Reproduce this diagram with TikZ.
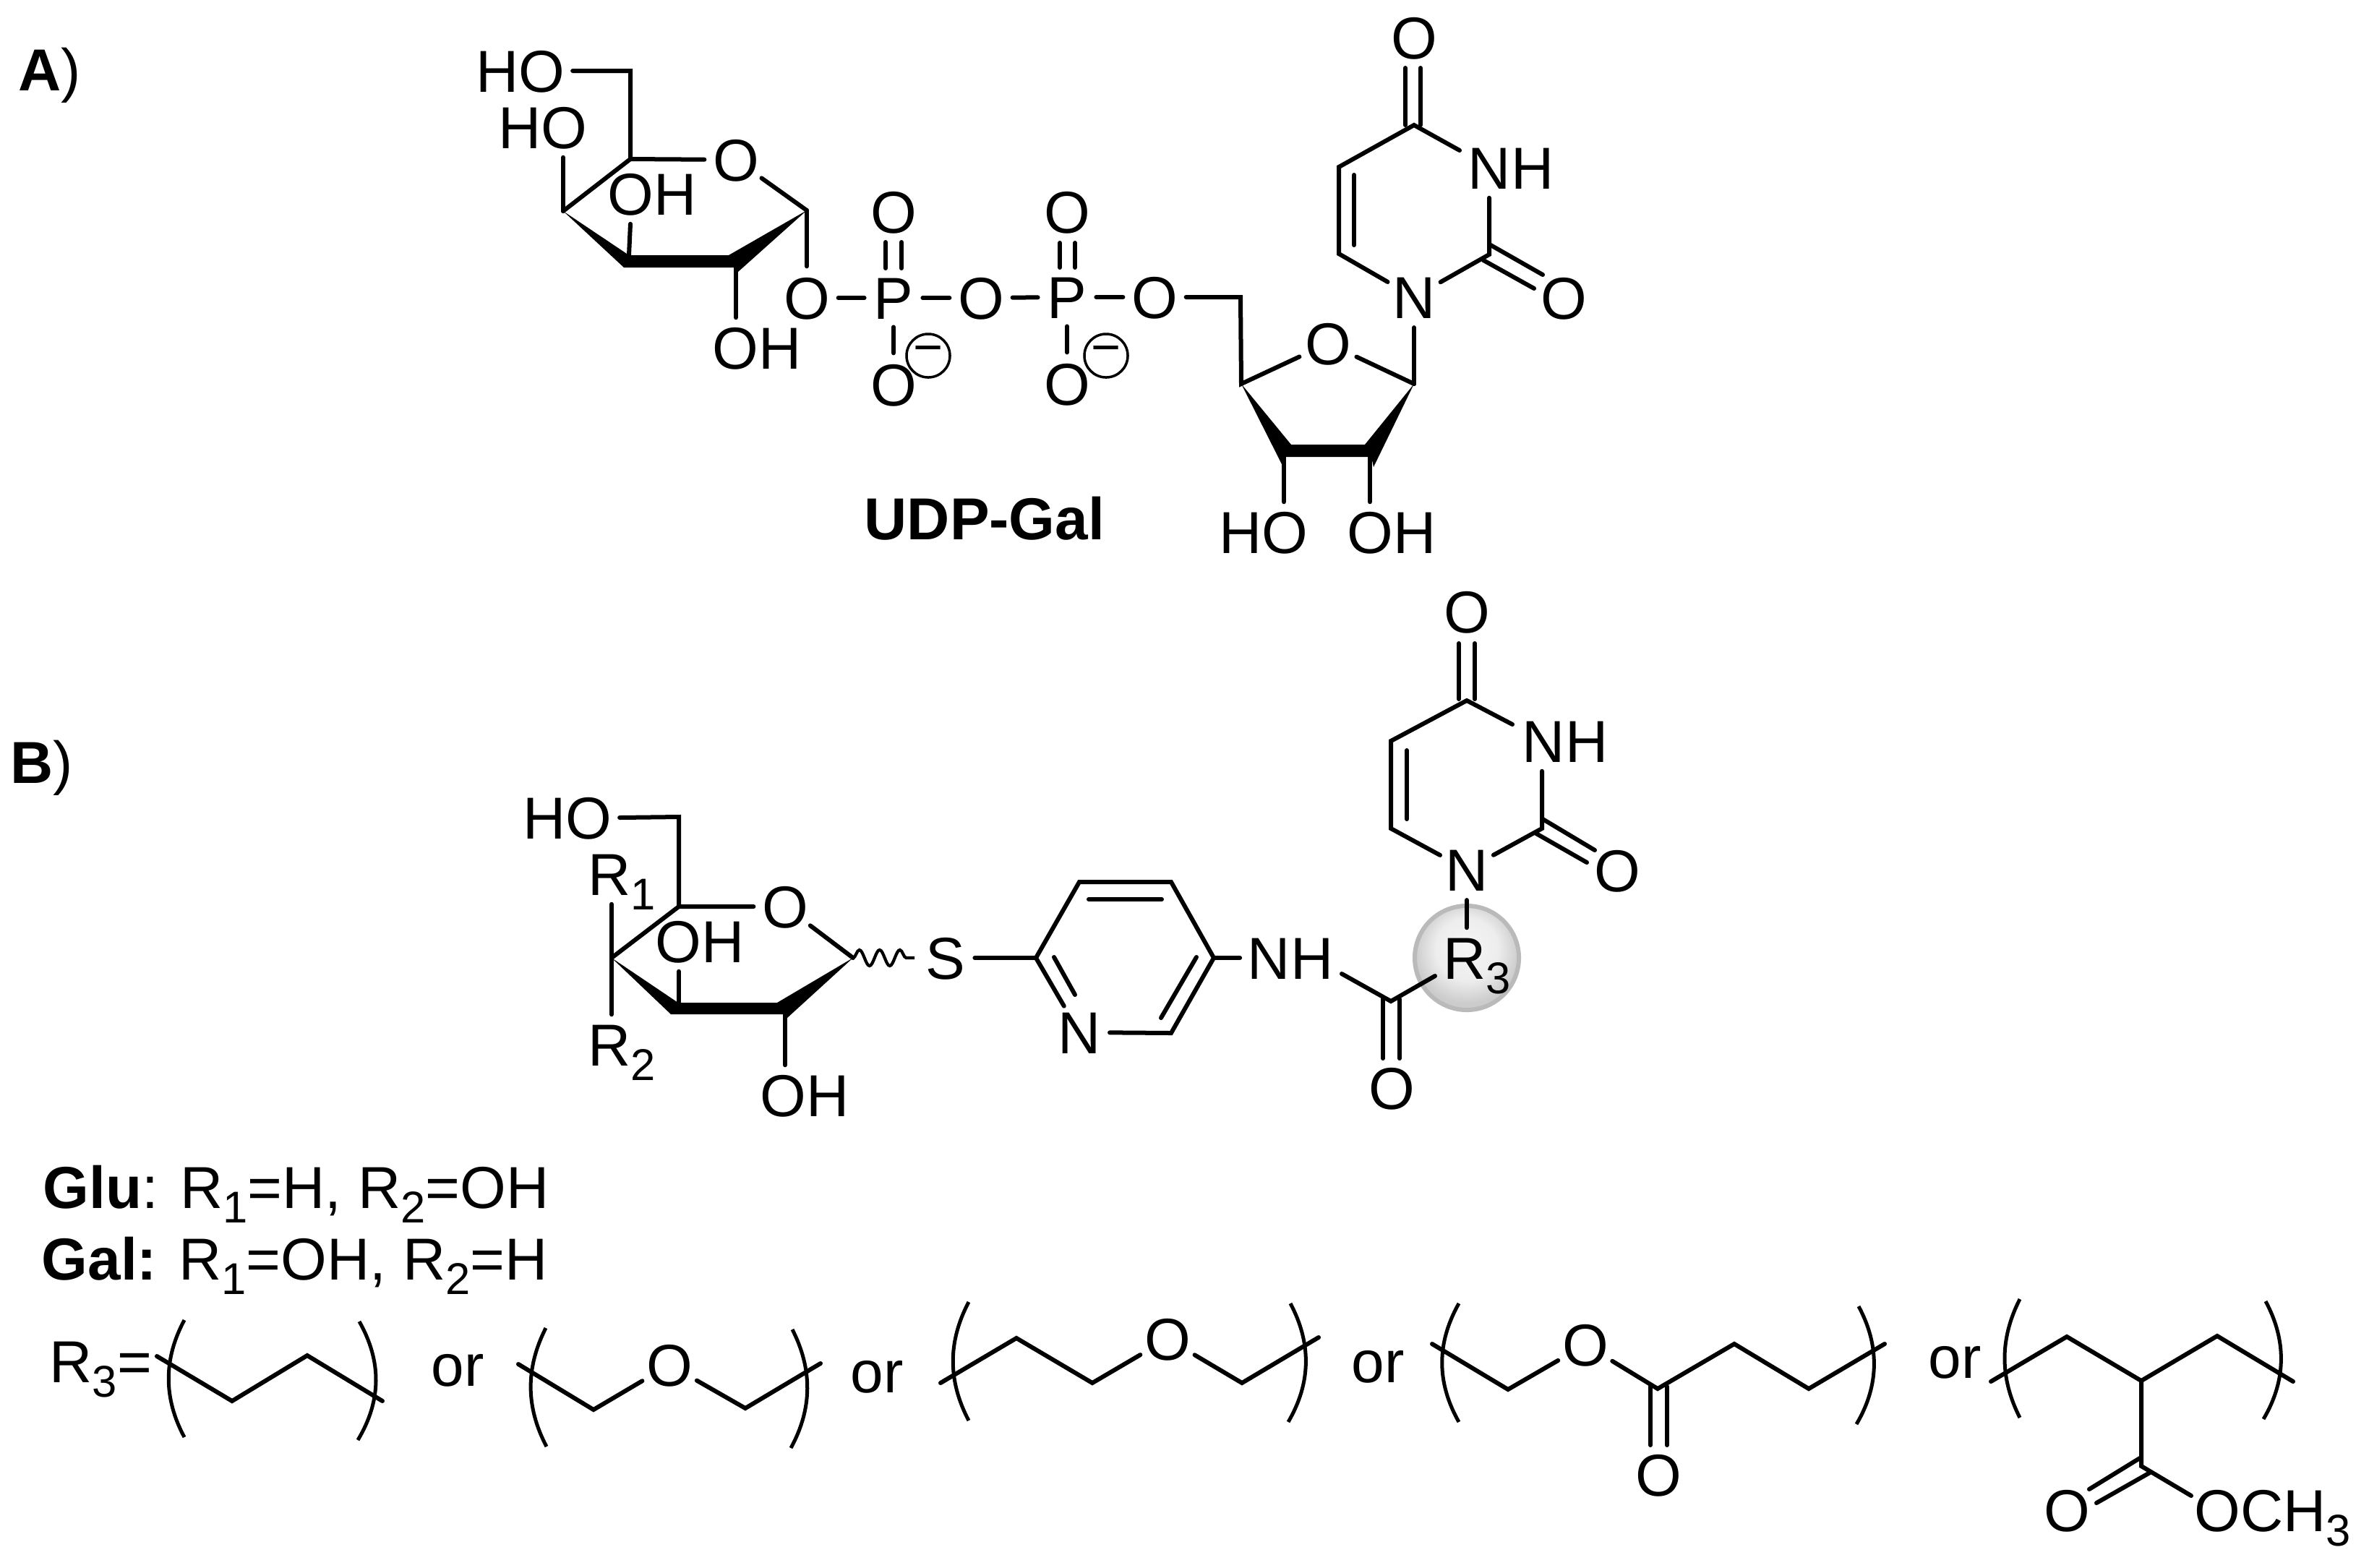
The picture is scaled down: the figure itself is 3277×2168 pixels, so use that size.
\documentclass[tikz,border=0pt]{standalone}
\usepackage{fontspec}
\setmainfont{Liberation Sans}
\usetikzlibrary{decorations.pathmorphing}
\pgfdeclareradialshading{ballshadeR}{\pgfpoint{0bp}{6bp}}{color(0bp)=(black!4); color(15bp)=(black!7); color(25bp)=(black!20); color(50bp)=(black!22)}
\newcommand\lowidx[1]{\raisebox{-0.2cm}{\fontsize{17.5pt}{18pt}\selectfont #1}}
\newcommand\segm[3]{\coordinate (#1a) at (#2); \coordinate (#1b) at (#3); \draw[bond] (#1a) -- (#1b);}
\newcommand\brk[5]{\coordinate (#1a) at (#2); \coordinate (#1b) at (#5); \draw[brkline] (#1a) .. controls (#3) and (#4) .. (#1b);}
\tikzset{
  bond/.style={line width=0.06cm,line cap=round,line join=miter,black},
  brkline/.style={line width=0.05cm,black},
  atom/.style={circle,inner sep=0pt,text height=0.58cm,text depth=0pt},
  lab/.style={rectangle,inner xsep=0.1cm,inner ysep=0.12cm,text height=0.58cm,text depth=0pt},
  txt/.style={inner sep=0pt,anchor=base west},
  minusc/.style={circle,draw,line width=0.035cm,inner sep=0pt,minimum size=0.6cm,fill=none,font=\fontsize{20pt}{20pt}\selectfont},
  wavy/.style={line width=0.042cm,decorate,decoration={snake,segment length=0.28cm,amplitude=0.11cm}},
  ballnode/.style={circle,inner sep=0pt,minimum size=1.44cm,shade,shading=ballshadeR,draw=black!27,line width=0.06cm}
}
\begin{document}
\begin{tikzpicture}[x=0.01cm,y=-0.01cm,every node/.append style={font=\fontsize{23.3pt}{26pt}\selectfont}]
\useasboundingbox (0,0) rectangle (3277,2168);
\fill[white] (0,0) rectangle (3277,2168);

% ---------- Panel labels
\node[txt] (panA) at (25,125) {\textbf{A})};
\node[txt] (panB) at (14,1083) {\textbf{B})};
\node[txt] (udp) at (1195,746) {\textbf{UDP-Gal}};

% ---------- A: galactose
\coordinate (ga1) at (1116,291);
\coordinate (ga2) at (1018,362);
\coordinate (ga3) at (872,362);
\coordinate (ga4) at (779,292);
\coordinate (ga5) at (872,220);
\coordinate (ga6) at (872,98);
\node[atom] (gaO) at (1018,221) {O};
\node[lab] (gaHO6) at (720,98) {HO};
\node[lab] (gaHO4) at (751,176) {HO};
\node[lab] (gaOH3) at (902,268) {OH};
\node[lab] (gaOH2) at (1047,481) {OH};
\fill (ga4) -- (870,353) -- (1008,353) -- (ga1) -- (1021,376) -- (1018,370) -- (863,370) -- cycle;
\draw[bond] (gaHO6.east) -- (ga6) -- (ga5) -- (ga4);
\draw[bond] (ga5) -- (gaO) -- (ga1);
\draw[bond] (ga4) -- (gaHO4.south -| ga4);
\draw[bond] (870,353) -- (gaOH3.south -| ga3);
\draw[bond] (1018,368) -- (gaOH2.north -| ga2);

% ---------- A: diphosphate
\node[atom] (oa2) at (1116,412) {O};
\node[atom] (pa1) at (1236,412) {P};
\node[atom] (oa3) at (1236,293) {O};
\node[atom] (oa4) at (1236,532) {O};
\node[atom] (oa5) at (1357,412) {O};
\node[atom] (pa2) at (1476,411) {P};
\node[atom] (oa6) at (1476,293) {O};
\node[atom] (oa7) at (1476,531) {O};
\node[atom] (oa8) at (1597,411) {O};
\node[minusc] (ma1) at (1284,492) {−};
\node[minusc] (ma2) at (1530,492) {−};
\draw[bond] (ga1) -- (oa2);
\draw[bond] (oa2) -- (pa1);
\draw[bond] (pa1) -- (oa5);
\draw[bond] (oa5) -- (pa2);
\draw[bond] (pa2) -- (oa8);
\draw[bond] (pa1) -- (oa4);
\draw[bond] (pa2) -- (oa7);
\segm{da1}{1225,335}{1225,371}
\segm{da2}{1247,335}{1247,371}
\segm{da3}{1466,336}{1466,370}
\segm{da4}{1487,336}{1487,370}

% ---------- A: ribose
\coordinate (ri6) at (1716,411);
\coordinate (ri4) at (1717,531);
\coordinate (ri1) at (1956,531);
\coordinate (ri3) at (1776,632);
\coordinate (ri2) at (1895,632);
\node[atom] (riO) at (1837,475) {O};
\node[lab] (riHO) at (1748,736) {HO};
\node[lab] (riOH) at (1925,736) {OH};
\fill (ri4) -- (1786,615) -- (1888,615) -- (ri1) -- (1900,646) -- (1897,632) -- (1779,632) -- (1775,646) -- cycle;
\draw[bond] (oa8) -- (ri6) -- (ri4) -- (riO) -- (ri1);
\draw[bond] (ri3) -- (riHO.north -| ri3);
\draw[bond] (ri2) -- (riOH.north -| ri2);

% ---------- A: uracil
\coordinate (ua2) at (2060,352);
\coordinate (ua4) at (1956,173);
\coordinate (ua5) at (1852,231);
\coordinate (ua6) at (1852,351);
\coordinate (uaNe) at (2019,208);
\node[atom] (uaN1) at (1956,411) {N};
\node[lab] (uaN3) at (2090,232) {NH};
\node[atom] (uaO2) at (2163,412) {O};
\node[atom] (uaO4) at (1956,52) {O};
\draw[bond] (uaN1) -- (ri1);
\draw[bond] (uaN1) -- (ua2) -- (ua2 |- uaN3.south);
\draw[bond] (uaNe) -- (ua4) -- (ua5) -- (ua6) -- (uaN1);
\segm{da5}{1873,242}{1873,339}
\segm{da6}{1944,94}{1944,173}
\segm{da7}{1965,94}{1965,173}
\segm{da8}{2062,339}{2134,380}
\segm{da9}{2052,360}{2122,399}

% ---------- B: sugar
\coordinate (sb1) at (1180,1325);
\coordinate (sb2) at (1086,1403);
\coordinate (sb3) at (939,1387);
\coordinate (sb4) at (846,1325);
\coordinate (sb5) at (939,1254);
\coordinate (sb6) at (939,1130);
\coordinate (wvend) at (1265,1325);
\node[atom] (sbO) at (1086,1254) {O};
\node[lab] (sbHO) at (785,1131) {HO};
\node[lab,anchor=west] (sbR1) at (803,1209) {R\lowidx{1}};
\node[lab,anchor=west] (sbR2) at (803,1445) {R\lowidx{2}};
\node[lab] (sbOHi) at (968,1302) {OH};
\node[lab] (sbOHl) at (1113,1515) {OH};
\node[atom] (sbS) at (1308,1325) {S};
\fill (sb4) -- (938,1387) -- (1075,1387) -- (sb1) -- (1089,1408) -- (1086,1403) -- (928,1403) -- cycle;
\draw[bond] (sbHO.east) -- (sb6) -- (sb5) -- (sb4);
\draw[bond] (sb5) -- (sbO) -- (sb1);
\draw[bond] (sb4 |- sbR1.south) -- (sb4 |- sbR2.north);
\draw[bond] (sb3) -- (sb3 |- sbOHi.south);
\draw[bond] (sb2) -- (sb2 |- sbOHl.north);
\draw[wavy] (sb1) -- (wvend);

% ---------- B: pyridine
\coordinate (py2) at (1433,1325);
\coordinate (py3) at (1493,1220);
\coordinate (py4) at (1620,1220);
\coordinate (py5) at (1679,1325);
\coordinate (py6) at (1620,1429);
\node[atom] (pyN) at (1493,1428) {N};
\node[lab] (pyNH) at (1785,1325) {NH};
\draw[bond] (sbS) -- (py2);
\draw[bond] (pyN) -- (py6) -- (py5) -- (py4) -- (py3) -- (py2) -- (pyN);
\draw[bond] (py5) -- (pyNH.west);
\segm{db1}{1506,1244}{1607,1244}
\segm{db2}{1655,1324}{1606,1408}
\segm{db3}{1458,1324}{1487,1376}

% ---------- B: linker
\node[ballnode] (rball) at (2029,1325) {};
\coordinate (lkC) at (1924,1385);
\coordinate (lkNH) at (1856,1347);
\coordinate (lkR) at (1985,1350);
\node[lab,anchor=west] (lkR3) at (1986,1325) {R\lowidx{3}};
\node[atom] (lkO) at (1925,1505) {O};
\draw[bond] (lkNH) -- (lkC) -- (lkR);
\segm{db4}{1913,1382}{1913,1464}
\segm{db5}{1936,1382}{1936,1464}

% ---------- B: uracil
\coordinate (ub2) at (2133,1146);
\coordinate (ub4) at (2029,969);
\coordinate (ub5) at (1924,1025);
\coordinate (ub6) at (1924,1146);
\coordinate (ubNe) at (2092,1002);
\node[atom] (ubN1) at (2029,1203) {N};
\node[lab] (ubN3) at (2165,1025) {NH};
\node[atom] (ubO2) at (2237,1204) {O};
\node[atom] (ubO4) at (2029,846) {O};
\draw[bond] (ubN1) -- (ubN1 |- lkR3.north);
\draw[bond] (ubN1) -- (ub2) -- (ub2 |- ubN3.south);
\draw[bond] (ubNe) -- (ub4) -- (ub5) -- (ub6) -- (ubN1);
\segm{db6}{1946,1038}{1946,1133}
\segm{db7}{2018,890}{2018,967}
\segm{db8}{2040,890}{2040,967}
\segm{db9}{2134,1133}{2206,1176}
\segm{db10}{2125,1153}{2195,1193}

% ---------- Definitions
\node[txt] (glu) at (59,1671) {\textbf{Glu}: R\lowidx{1}=H, R\lowidx{2}=OH};
\node[txt] (gal) at (57,1770) {\textbf{Gal:} R\lowidx{1}=OH, R\lowidx{2}=H};
\node[txt] (r3eq) at (68,1912) {R\lowidx{3}=};
\node[txt] (or1) at (596,1917) {or};
\node[txt] (or2) at (1176,1926) {or};
\node[txt] (or3) at (1869,1912) {or};
\node[txt] (or4) at (2667,1906) {or};

% ---------- polymer 1
\brk{p1l}{255,1826}{226,1880}{226,1934}{255,1988}
\brk{p1r}{497,1828}{528,1883}{528,1937}{495,1992}
\coordinate (p1a) at (217,1876);
\coordinate (p1b) at (321,1938);
\coordinate (p1c) at (425,1875);
\coordinate (p1d) at (529,1938);
\draw[bond] (p1a) -- (p1b) -- (p1c) -- (p1d);

% ---------- polymer 2
\brk{p2l}{755,1837}{727,1892}{727,1946}{756,2001}
\brk{p2r}{1096,1839}{1124,1894}{1124,1948}{1094,2003}
\coordinate (p2a) at (717,1887);
\coordinate (p2b) at (821,1950);
\coordinate (p2c) at (1031,1948);
\coordinate (p2d) at (1135,1886);
\node[atom] (p2O) at (926,1888) {O};
\draw[bond] (p2a) -- (p2b) -- (p2O) -- (p2c) -- (p2d);

% ---------- polymer 3
\brk{p3l}{1340,1801}{1311,1856}{1311,1910}{1340,1965}
\brk{p3r}{1785,1803}{1814,1858}{1814,1912}{1782,1967}
\coordinate (p3a) at (1301,1913);
\coordinate (p3b) at (1406,1851);
\coordinate (p3c) at (1511,1913);
\coordinate (p3d) at (1718,1913);
\coordinate (p3e) at (1824,1850);
\node[atom] (p3O) at (1615,1852) {O};
\draw[bond] (p3a) -- (p3b) -- (p3c) -- (p3O) -- (p3d) -- (p3e);

% ---------- polymer 4
\brk{p4l}{2018,1803}{1987,1858}{1987,1912}{2018,1967}
\brk{p4r}{2571,1807}{2600,1861}{2600,1916}{2568,1970}
\coordinate (p4a) at (1981,1859);
\coordinate (p4b) at (2086,1922);
\coordinate (p4c) at (2293,1921);
\coordinate (p4d) at (2399,1859);
\coordinate (p4e) at (2502,1921);
\coordinate (p4f) at (2607,1859);
\node[atom] (p4O) at (2193,1860) {O};
\node[atom] (p4Oc) at (2294,2040) {O};
\draw[bond] (p4a) -- (p4b) -- (p4O) -- (p4c) -- (p4d) -- (p4e) -- (p4f);
\segm{dp1}{2283,1918}{2283,1999}
\segm{dp2}{2306,1918}{2306,1999}

% ---------- polymer 5
\brk{p5l}{2794,1797}{2766,1852}{2766,1906}{2794,1961}
\brk{p5r}{3134,1800}{3163,1854}{3163,1909}{3131,1963}
\coordinate (p5a) at (2754,1911);
\coordinate (p5b) at (2859,1849);
\coordinate (p5c) at (2962,1910);
\coordinate (p5d) at (3067,1848);
\coordinate (p5e) at (3172,1911);
\coordinate (p5f) at (2962,2028);
\coordinate (p5g) at (3031,2069);
\node[atom] (p5O) at (2859,2089) {O};
\node[lab,anchor=west] (p5M) at (3025,2089) {OCH\lowidx{3}};
\draw[bond] (p5a) -- (p5b) -- (p5c) -- (p5d) -- (p5e);
\draw[bond] (p5c) -- (p5f) -- (p5g);
\segm{dp3}{2960,2017}{2890,2060}
\segm{dp4}{2974,2037}{2900,2079}
\end{tikzpicture}
\end{document}
